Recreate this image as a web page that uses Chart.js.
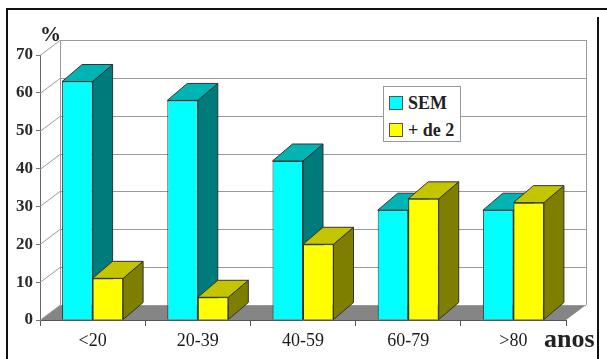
<!DOCTYPE html>
<html>
<head>
<meta charset="utf-8">
<script src="https://cdn.jsdelivr.net/npm/chart.js@4.4.1/dist/chart.umd.min.js"></script>
<style>
  html, body { margin: 0; padding: 0; background: #fff; }
  #wrap { position: relative; width: 607px; height: 359px; overflow: hidden; }
  #chart { position: absolute; left: 0; top: 0; }
  .lbl { position: absolute; font-family: "Liberation Serif", serif; font-weight: bold; color: #222; }
  #legend {
    position: absolute; left: 383px; top: 86px; width: 76px; height: 54px;
    border: 1px solid #999; background: #fff;
    font-family: "Liberation Serif", serif; font-weight: bold; font-size: 18px; color: #222;
  }
  #legend .item { position: absolute; left: 5px; height: 20px; line-height: 20px; white-space: nowrap; }
  #legend .sw { display: inline-block; width: 12px; height: 12px; border: 1px solid #555; vertical-align: -1px; margin-right: 5px; }
</style>
</head>
<body>
<div id="wrap">
  <canvas id="chart" width="607" height="359"></canvas>
  <div class="lbl" style="left:40px; top:22px; font-size:21px;">%</div>
  <div class="lbl" style="left:544px; top:324px; font-size:26px;">anos</div>
  <div id="legend"></div>
</div>
<script>
const categories = ["<20", "20-39", "40-59", "60-79", ">80"];
const seriesNames = ["SEM", "+ de 2"];
const semValues = [63, 58, 42, 29, 29];
const de2Values = [11, 6, 20, 32, 31];
const yTicks = [0, 10, 20, 30, 40, 50, 60, 70];

// depth of the 3D box
const WALL_DX = 20, WALL_DY = 15;
const BAR_DX = 20, BAR_DY = 17;

function poly(ctx, pts, fill, stroke) {
  ctx.beginPath();
  ctx.moveTo(pts[0][0], pts[0][1]);
  for (let i = 1; i < pts.length; i++) ctx.lineTo(pts[i][0], pts[i][1]);
  ctx.closePath();
  if (fill) { ctx.fillStyle = fill; ctx.fill(); }
  if (stroke) { ctx.strokeStyle = stroke; ctx.lineWidth = 1; ctx.stroke(); }
}

const framePlugin = {
  id: "frame",
  afterDraw(chart) {
    const ctx = chart.ctx;
    ctx.save();
    ctx.fillStyle = "#111";
    ctx.fillRect(7, 8, 600, 2);
    ctx.fillRect(6, 8, 2, 351);
    ctx.fillRect(597, 17, 2, 342);
    ctx.restore();
  }
};

// walls, floor and the side/top faces of every bar; the library then paints the fronts
const boxPlugin = {
  id: "box3d",
  beforeDatasetsDraw(chart) {
    const ctx = chart.ctx;
    const { left, right } = chart.chartArea;
    const ys = chart.scales.y;
    const y0 = ys.getPixelForValue(yTicks[0]);
    const yTop = ys.getPixelForValue(yTicks[yTicks.length - 1]);
    ctx.save();
    poly(ctx, [[left, y0], [right, y0], [right + WALL_DX, y0 - WALL_DY], [left + WALL_DX, y0 - WALL_DY]], "#858585");
    ctx.strokeStyle = "#9a9a9a";
    ctx.lineWidth = 1;
    yTicks.forEach(v => {
      const y = Math.round(ys.getPixelForValue(v)) + 0.5;
      ctx.beginPath();
      ctx.moveTo(left + WALL_DX, y - WALL_DY);
      ctx.lineTo(right + WALL_DX, y - WALL_DY);
      ctx.stroke();
      ctx.beginPath();
      ctx.moveTo(left, y);
      ctx.lineTo(left + WALL_DX, y - WALL_DY);
      ctx.stroke();
    });
    ctx.beginPath();
    ctx.moveTo(left + WALL_DX + 0.5, yTop - WALL_DY);
    ctx.lineTo(left + WALL_DX + 0.5, y0 - WALL_DY);
    ctx.moveTo(right + WALL_DX + 0.5, yTop - WALL_DY);
    ctx.lineTo(right + WALL_DX + 0.5, y0 - WALL_DY);
    ctx.stroke();

    const n = chart.data.labels.length;
    for (let c = 0; c < n; c++) {
      chart.data.datasets.forEach((ds, i) => {
        const bar = chart.getDatasetMeta(i).data[c];
        const p = bar.getProps(["x", "y", "base", "width"], true);
        const l = p.x - p.width / 2, r = p.x + p.width / 2;
        poly(ctx, [[r, p.y], [r + BAR_DX, p.y - BAR_DY], [r + BAR_DX, p.base - BAR_DY], [r, p.base]], ds.sideColor, "#333");
        poly(ctx, [[l, p.y], [r, p.y], [r + BAR_DX, p.y - BAR_DY], [l + BAR_DX, p.y - BAR_DY]], ds.topColor, "#333");
      });
    }
    ctx.restore();
  }
};

const ctx = document.getElementById("chart").getContext("2d");
const chart = new Chart(ctx, {
  type: "bar",
  data: {
    labels: categories,
    datasets: [
      {
        label: seriesNames[0],
        data: semValues,
        backgroundColor: "#00FFFF",
        topColor: "#00B4B4",
        sideColor: "#007B7B",
        borderColor: "#333",
        borderWidth: 1,
      },
      {
        label: seriesNames[1],
        data: de2Values,
        backgroundColor: "#FFFF00",
        topColor: "#C4C400",
        sideColor: "#7E7E00",
        borderColor: "#333",
        borderWidth: 1,
      },
    ],
  },
  options: {
    responsive: false,
    animation: false,
    layout: { padding: { top: 55, right: 41, bottom: 0, left: 0 } },
    datasets: { bar: { categoryPercentage: 0.58, barPercentage: 1 } },
    plugins: {
      legend: { display: false },
      tooltip: { enabled: false },
    },
    scales: {
      x: {
        offset: true,
        grid: { offset: true, drawOnChartArea: false, tickLength: 6, color: "#555" },
        border: { color: "#555" },
        ticks: { font: { family: "Liberation Serif", size: 18 }, color: "#1a1a1a", padding: 4 },
        afterFit(s) { s.height = 39; },
      },
      y: {
        min: 0,
        max: 70,
        afterBuildTicks(s) { s.ticks = yTicks.map(v => ({ value: v })); },
        grid: { drawOnChartArea: false, tickLength: 4, color: "#777" },
        border: { color: "#666" },
        ticks: { font: { family: "Liberation Serif", size: 17, weight: "bold" }, color: "#2a2a2a", padding: 3 },
        afterFit(s) { s.width = 40; },
      },
    },
  },
  plugins: [boxPlugin, framePlugin],
});

// legend built from the dataset labels
const legendEl = document.getElementById("legend");
chart.data.datasets.forEach((ds, i) => {
  const item = document.createElement("div");
  item.className = "item";
  item.style.top = (6 + i * 27) + "px";
  item.innerHTML = '<span class="sw" style="background:' + ds.backgroundColor + '"></span>' + ds.label;
  legendEl.appendChild(item);
});
</script>
</body>
</html>
